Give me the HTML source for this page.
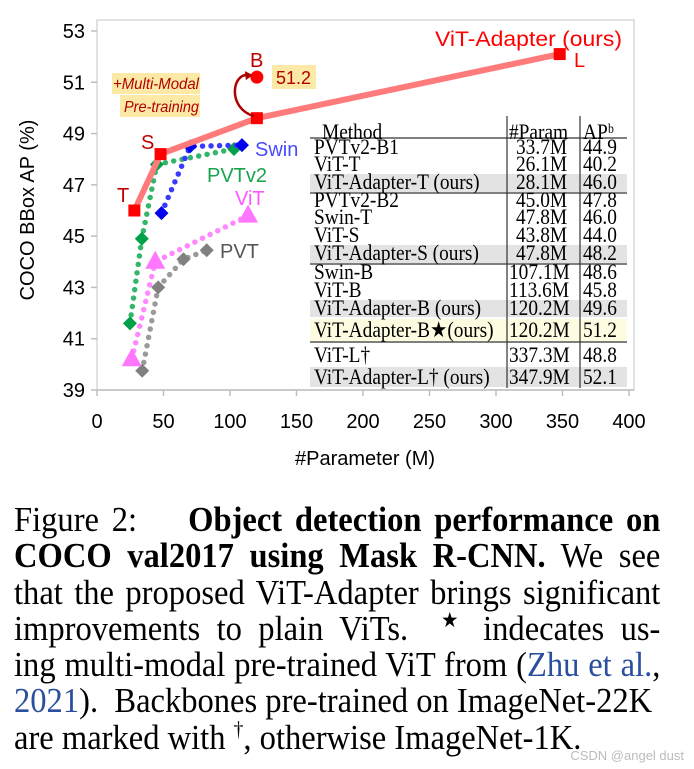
<!DOCTYPE html>
<html><head><meta charset="utf-8"><style>
body{margin:0;background:#fff;width:694px;height:769px;overflow:hidden;position:relative;font-family:"Liberation Sans",sans-serif}
#cap{position:absolute;left:14px;top:502px;width:695px;font-family:"Liberation Serif",serif;font-size:35px;line-height:36.3px;color:#000;transform:scaleX(0.93);transform-origin:0 0}
#cap .l{display:block;text-align:justify;text-align-last:justify;white-space:nowrap;height:36.3px;overflow:visible}
#cap .last{text-align-last:left}
#cap sup{font-size:21px;line-height:0;vertical-align:0;position:relative;top:-13px}
.cite{color:#2a4f9e}
#wm{position:absolute;right:10px;bottom:6px;font-size:13px;color:#bbb}
</style></head><body>
<svg id="chart" width="694" height="480" style="position:absolute;left:0;top:0" font-family="Liberation Sans, sans-serif"></svg>
<div id="cap">
<span class="l">Figure 2: &nbsp;&nbsp; <b>Object detection performance on</b></span>
<span class="l"><b>COCO val2017 using Mask R-CNN.</b> We see</span>
<span class="l">that the proposed ViT-Adapter brings significant</span>
<span class="l">improvements to plain ViTs. &nbsp;<sup>★</sup> indecates us-</span>
<span class="l">ing multi-modal pre-trained ViT from (<span class="cite">Zhu et al.</span>,</span>
<span class="l last"><span class="cite">2021</span>). &nbsp;Backbones pre-trained on ImageNet-22K</span>
<span class="l last">are marked with <sup>†</sup>, otherwise ImageNet-1K.</span>
</div>
<div id="wm">CSDN @angel dust</div>
<script>
const xTicks=[0,50,100,150,200,250,300,350,400];
const yTicks=[39,41,43,45,47,49,51,53];
const adapterX=[28.1,47.8,120.2,347.9];
const adapterY=[46.0,48.2,49.6,52.1];
const adapterStarX=[120.2];
const adapterStarY=[51.2];
const swinX=[48.5,70,109];
const swinY=[45.9,48.5,48.55];
const pvtv2X=[24.8,33.7,45.0,103];
const pvtv2Y=[41.6,44.9,47.8,48.4];
const vitX=[26.1,43.8,113.6];
const vitY=[40.2,44.0,45.8];
const pvtX=[34,46,65,82.5];
const pvtY=[39.75,43.0,44.1,44.45];
const tableRows=[
 ["Method","#Param","AP\u1D47"],
 ["PVTv2-B1","33.7M","44.9"],["ViT-T","26.1M","40.2"],["ViT-Adapter-T (ours)","28.1M","46.0"],
 ["PVTv2-B2","45.0M","47.8"],["Swin-T","47.8M","46.0"],["ViT-S","43.8M","44.0"],["ViT-Adapter-S (ours)","47.8M","48.2"],
 ["Swin-B","107.1M","48.6"],["ViT-B","113.6M","45.8"],["ViT-Adapter-B (ours)","120.2M","49.6"],
 ["ViT-Adapter-B★(ours)","120.2M","51.2"],["ViT-L†","337.3M","48.8"],["ViT-Adapter-L† (ours)","347.9M","52.1"]];

const svg=document.getElementById('chart');
const NS='http://www.w3.org/2000/svg';
const X0=97,X1=629,Y0=390,Y1=31;
const sx=v=>X0+(v-0)/400*(X1-X0);
const sy=v=>Y0-(v-39)/14*(Y0-Y1);
function mk(t,a,parent){const e=document.createElementNS(NS,t);for(const k in a)e.setAttribute(k,a[k]);(parent||svg).appendChild(e);return e;}
function txt(s,x,y,a,parent){const e=mk('text',Object.assign({x:x,y:y},a),parent);e.textContent=s;return e;}

const fr=mk('rect',{x:X0,y:20,width:634-X0,height:Y0-20,fill:'none',stroke:'#d9d9d9','stroke-width':1.5});


const xa=mk('line',{x1:X0,x2:634,y1:Y0,y2:Y0,stroke:'#bfbfbf','stroke-width':1.5});


xTicks.forEach(v=>{
 mk('line',{x1:sx(v),x2:sx(v),y1:Y0,y2:Y0+6,stroke:'#bfbfbf','stroke-width':1.5});
 const t=txt(String(v),sx(v),Y0+38,{'text-anchor':'middle','font-size':20,fill:'#000'});
 
 
});
yTicks.forEach(v=>{
 mk('line',{x1:X0-6,x2:X0,y1:sy(v),y2:sy(v),stroke:'#bfbfbf','stroke-width':1.5});
 const t=txt(String(v),X0-12,sy(v)+7,{'text-anchor':'end','font-size':20,fill:'#000'});
 
 
});
const xt=txt('#Parameter (M)',365,465,{'text-anchor':'middle','font-size':20});


const yt=txt('COCO BBox AP (%)',0,0,{'text-anchor':'middle','font-size':20,transform:'translate(34,210) rotate(-90)'});



function dotted(xs,ys,color,name){
 const p=mk('polyline',{points:xs.map((x,i)=>sx(x)+','+sy(ys[i])).join(' '),fill:'none',stroke:color,'stroke-width':5.5,'stroke-linecap':'round','stroke-dasharray':'0 8.5'});
 
 
}
function diamonds(xs,ys,color,name){
 xs.forEach((x,i)=>{const cx=sx(x),cy=sy(ys[i]),r=7;
  const d=mk('polygon',{points:`${cx},${cy-r} ${cx+r},${cy} ${cx},${cy+r} ${cx-r},${cy}`,fill:color});
  
  
 });
}
dotted(pvtX,pvtY,'#9a9a9a','pvt');diamonds(pvtX,pvtY,'#808080','pvt');
dotted(vitX,vitY,'#ff88ff','vit');
vitX.forEach((x,i)=>{const cx=sx(x),cy=sy(vitY[i]);
 const t=mk('polygon',{points:`${cx},${cy-11} ${cx+10},${cy+7} ${cx-10},${cy+7}`,fill:'#ff77ff'});
 
 
});
dotted(pvtv2X,pvtv2Y,'#33b56a','pvtv2');diamonds(pvtv2X,pvtv2Y,'#00a04a','pvtv2');
dotted(swinX,swinY,'#3a3aff','swin');diamonds(swinX,swinY,'#0000ee','swin');

const tg=mk('g',{});


const TL=310,TR=627,C1=507,C2=580;
const rowY=[132,147,164,182,200,217,235,253,272,290,308,330,355,377];
const bands=[[174,192,'#e3e3e3'],[245,263,'#e3e3e3'],[300,317,'#e3e3e3'],[319,341,'#fdfbe0'],[367,387,'#e3e3e3']];
bands.forEach(b=>mk('rect',{x:TL,y:b[0],width:TR-TL,height:b[1]-b[0],fill:b[2]},tg));
[138,193,264,342].forEach(y=>mk('line',{x1:TL,x2:TR,y1:y,y2:y,stroke:'#333','stroke-width':1.3},tg));
[C1,C2].forEach(x=>mk('line',{x1:x,x2:x,y1:116,y2:388,stroke:'#333','stroke-width':1.2},tg));
const K=0.88;
const tsc=mk('g',{transform:`scale(${K},1)`},tg);
tableRows.forEach((r,i)=>{
 const y=rowY[i]+7,a={'font-family':'Liberation Serif, serif','font-size':22,fill:'#000'};
 txt(r[0],(i==0?TL+12:TL+4)/K,y,a,tsc);
 txt(r[1],(C1+(r[1].length>5?2:9))/K,y,a,tsc);
 txt(r[2],(C2+3)/K,y,a,tsc);
});

const al=mk('polyline',{points:adapterX.map((x,i)=>sx(x)+','+sy(adapterY[i])).join(' '),fill:'none',stroke:'#ff7b7b','stroke-width':6,'stroke-linejoin':'round'});


adapterX.forEach((x,i)=>{
 const r=mk('rect',{x:sx(x)-6,y:sy(adapterY[i])-6,width:12,height:12,fill:'#ff0000'});
 
 
});
adapterStarX.forEach((x,i)=>{
 const c=mk('circle',{cx:sx(x),cy:sy(adapterStarY[i]),r:6.5,fill:'#ff0000'});
 
 
});
const bx=sx(120.2);
const ar=mk('path',{d:`M${bx-3},${sy(49.6)-2} C${bx-30},${sy(49.6)-10} ${bx-25},${sy(51.2)-5} ${bx-8},${sy(51.2)-2}`,fill:'none',stroke:'#b00000','stroke-width':2.5});


mk('polygon',{points:`${bx-4},${sy(51.2)-2} ${bx-12},${sy(51.2)-6} ${bx-11},${sy(51.2)+3}`,fill:'#b00000'});

mk('rect',{x:272,y:65,width:44,height:24,fill:'#fde9a6'});
mk('rect',{x:112,y:73,width:88,height:21,fill:'#fde9a6'});
mk('rect',{x:120,y:95,width:80,height:22,fill:'#fde9a6'});
const lab=(s,x,y,c,sz,nm,extra)=>{const t=txt(s,x,y,Object.assign({fill:c,'font-size':sz},extra||{}));return t;};
lab('51.2',276,84,'#b00000',18,'multimodal-value-label');
lab('+Multi-Modal',113,89,'#b00000',16,'multimodal-note',{'font-style':'italic',textLength:86,lengthAdjust:'spacingAndGlyphs'});
lab('Pre-training',124,112,'#b00000',16,'multimodal-note',{'font-style':'italic',textLength:75,lengthAdjust:'spacingAndGlyphs'});
lab('ViT-Adapter (ours)',435,46,'#ff0000',21,'vit-adapter-label',{textLength:187,lengthAdjust:'spacingAndGlyphs'});
lab('L',574,67,'#ff0000',20,'size-label-l');
lab('B',250,67,'#c00000',20,'size-label-b');
lab('S',141,149,'#c00000',20,'size-label-s');
lab('T',117,202,'#c00000',20,'size-label-t');
lab('Swin',255,156,'#4a4aff',20,'swin-label');
lab('PVTv2',207,182,'#19a34e',20,'pvtv2-label');
lab('ViT',235,205,'#ff55ff',20,'vit-label');
lab('PVT',220,258,'#555',20,'pvt-label');
</script>
</body></html>
